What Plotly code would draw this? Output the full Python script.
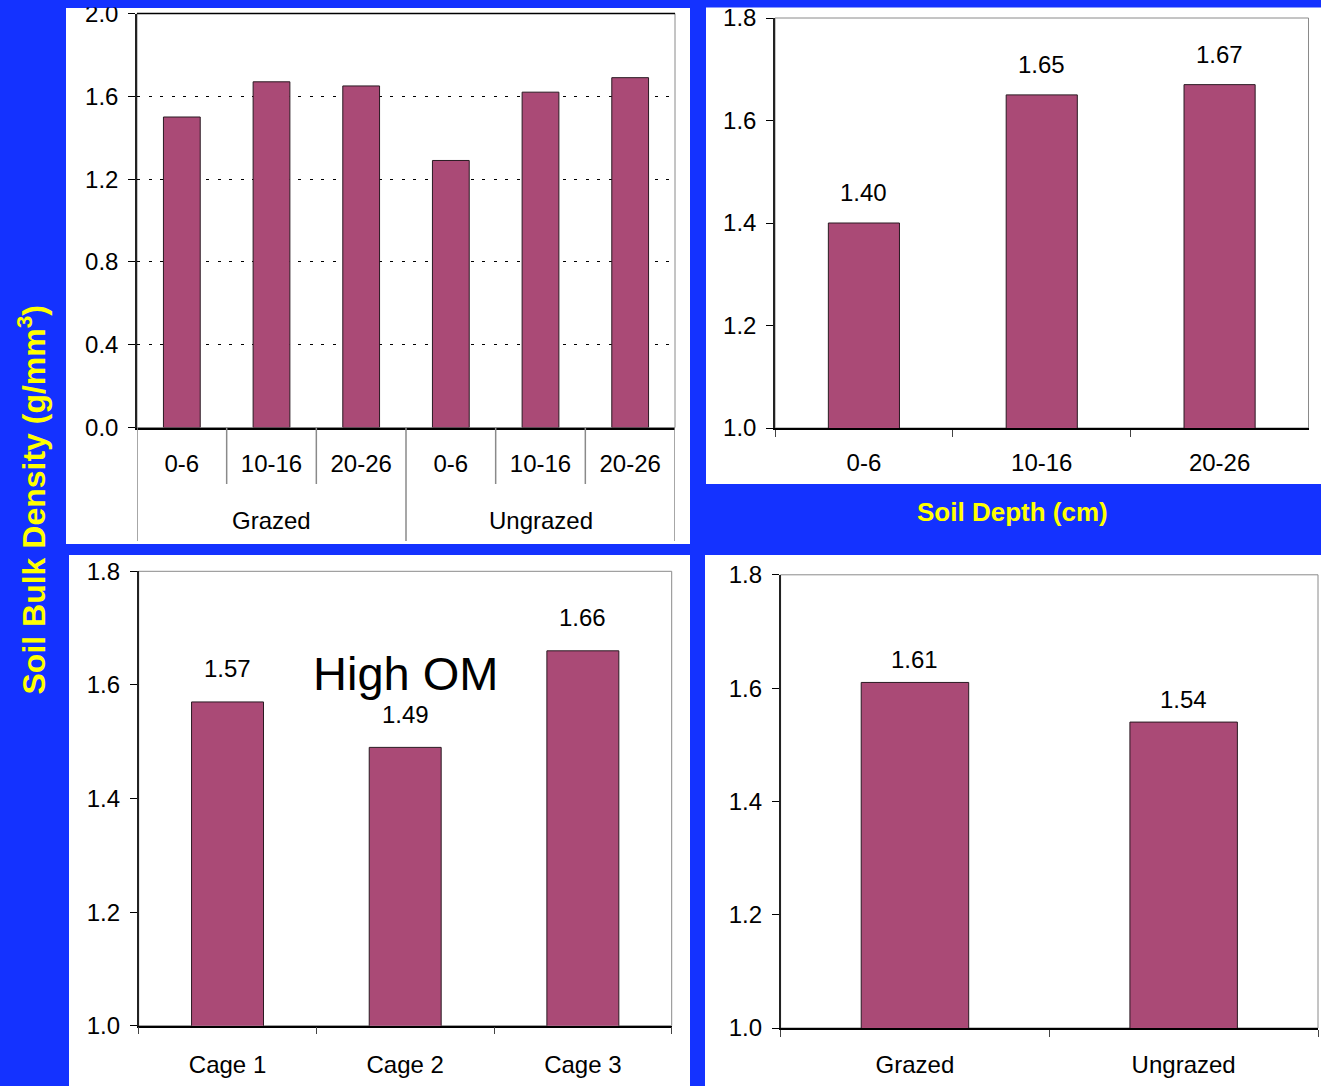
import plotly.graph_objects as go

W, H = 1321, 1086

# Soil bulk density by sampling depth within each grazing treatment
depths = ["0-6", "10-16", "20-26"]
treatments = ["Grazed", "Ungrazed"]
density_grazed = [1.50, 1.67, 1.65]
density_ungrazed = [1.29, 1.62, 1.69]

# Mean bulk density by depth
density_by_depth = [1.40, 1.65, 1.67]

# High organic-matter cages
cages = ["Cage 1", "Cage 2", "Cage 3"]
density_cages = [1.57, 1.49, 1.66]

# Mean bulk density by treatment
density_by_treatment = [1.61, 1.54]

# y-axis tick values
ticks_full = [0.0, 0.4, 0.8, 1.2, 1.6, 2.0]
ticks_zoom = [1.0, 1.2, 1.4, 1.6, 1.8]

BLUE = "#1432ff"
BAR = "#aa4a76"
BAR_EDGE = "#2a1a22"
YELLOW = "#ffff00"
GREY = "#8a8a8a"
FONT = "Liberation Sans, Arial, sans-serif"


def fx(px):
    return px / W


def fy(py):
    return 1 - py / H


# white card (left, top, right, bottom) and plot area (left, top, right, bottom), in pixels
panels = {
    "1": dict(card=(66, 8, 690, 544), plot=(137, 13.5, 675, 427.5)),
    "2": dict(card=(706, 7, 1321, 484), plot=(775, 18, 1308.5, 428)),
    "3": dict(card=(69, 555, 690, 1086), plot=(138.7, 571.3, 671.7, 1025.7)),
    "4": dict(card=(705, 555, 1321, 1086), plot=(780.6, 574.8, 1318, 1028)),
}

fig = go.Figure()

bar_style = dict(marker=dict(color=BAR, line=dict(color=BAR_EDGE, width=1)),
                 showlegend=False, hoverinfo="x+y")

# Panel 1: depth within treatment
x_positions = list(range(len(treatments) * len(depths)))
fig.add_trace(go.Bar(x=x_positions, y=density_grazed + density_ungrazed,
                     xaxis="x", yaxis="y", width=0.41, **bar_style))
# Panel 2: by depth
fig.add_trace(go.Bar(x=depths, y=density_by_depth, xaxis="x2", yaxis="y2",
                     width=0.40, **bar_style))
# Panel 3: cages
fig.add_trace(go.Bar(x=cages, y=density_cages, xaxis="x3", yaxis="y3",
                     width=0.405, **bar_style))
# Panel 4: by treatment
fig.add_trace(go.Bar(x=treatments, y=density_by_treatment, xaxis="x4", yaxis="y4",
                     width=0.40, **bar_style))

tickfont = dict(family=FONT, size=24, color="black")

layout = dict(
    width=W, height=H,
    margin=dict(l=0, r=0, t=0, b=0, pad=0, autoexpand=False),
    paper_bgcolor=BLUE,
    plot_bgcolor="white",
    showlegend=False,
    bargap=0.6,
)

shapes = []
annotations = []

for key, p in panels.items():
    cl, ct, cr, cb = p["card"]
    shapes.append(dict(type="rect", xref="paper", yref="paper",
                       x0=fx(cl), x1=fx(cr), y0=fy(cb), y1=fy(ct),
                       fillcolor="white", line=dict(width=0), layer="below"))
    pl, pt, pr, pb = p["plot"]
    xa = "xaxis" if key == "1" else f"xaxis{key}"
    ya = "yaxis" if key == "1" else f"yaxis{key}"
    yid = "y" if key == "1" else f"y{key}"
    xid = "x" if key == "1" else f"x{key}"
    layout[ya] = dict(
        domain=[fy(pb), fy(pt)], anchor=xid,
        showline=True, linecolor="#222", linewidth=1.5,
        ticks="outside", ticklen=7, tickcolor="black", tickwidth=1,
        tickfont=tickfont, ticklabelstandoff=5, ticklabeloverflow="allow",
        zeroline=False, showgrid=False, tickformat=".1f",
        automargin=False, fixedrange=True,
    )
    layout[xa] = dict(
        domain=[fx(pl), fx(pr)], anchor=yid,
        showline=True, linecolor="black", linewidth=1.5,
        tickfont=tickfont, zeroline=False, showgrid=False,
        ticklabeloverflow="allow",
        automargin=False, fixedrange=True,
    )
    # grey frame around the plot area
    shapes.append(dict(type="rect", xref=f"{xid} domain", yref=f"{yid} domain",
                       x0=0, x1=1, y0=0, y1=1, line=dict(color=GREY, width=1),
                       layer="below"))

# Panel 1 axes
layout["yaxis"].update(range=[0, 2.0], tickvals=ticks_full, showgrid=True,
                       gridcolor="black", gridwidth=1, griddash="3px,8.5px")
layout["xaxis"].update(type="linear", range=[-0.5, len(x_positions) - 0.5],
                       tickvals=x_positions, ticktext=depths * len(treatments),
                       ticks="", ticklabelstandoff=14)
# solid top edge at the 2.0 line
shapes.append(dict(type="line", xref="x domain", yref="y domain",
                   x0=0, x1=1, y0=1, y1=1, line=dict(color="black", width=1.5),
                   layer="above"))

# Panels 2-4 axes
label_standoff = {"2": 12, "3": 17, "4": 14}
for k in ["2", "3", "4"]:
    layout[f"yaxis{k}"].update(range=[1.0, 1.8], tickvals=ticks_zoom)
    layout[f"xaxis{k}"].update(type="category", ticks="outside", tickson="boundaries",
                               ticklen=7, tickcolor="#444",
                               ticklabelstandoff=label_standoff[k])

# Category dividers beneath panel 1
axis_py = panels["1"]["plot"][3]
n_d = len(depths)
for i in range(len(x_positions) + 1):
    edge = (i % n_d == 0)
    shapes.append(dict(type="line", xref="x", yref="paper",
                       x0=i - 0.5, x1=i - 0.5,
                       y0=fy(axis_py), y1=fy(541 if edge else 484),
                       line=dict(color=GREY, width=1.5), layer="above"))
for g, name in enumerate(treatments):
    annotations.append(dict(xref="x", yref="paper", x=g * n_d + (n_d - 1) / 2,
                            y=fy(520), text=name, showarrow=False,
                            yanchor="middle", font=tickfont))

# Value labels
def value_labels(xs, ys, xid, yid, shift):
    for xv, yv in zip(xs, ys):
        annotations.append(dict(xref=xid, yref=yid, x=xv, y=yv, text=f"{yv:.2f}",
                                showarrow=False, yanchor="middle", yshift=shift,
                                font=tickfont))

value_labels(depths, density_by_depth, "x2", "y2", 30)
value_labels(cages, density_cages, "x3", "y3", 33)
value_labels(treatments, density_by_treatment, "x4", "y4", 23)

annotations.append(dict(xref="x3 domain", yref="y3 domain", x=0.5, y=0.774,
                        text="High OM", showarrow=False, xanchor="center",
                        yanchor="middle",
                        font=dict(family=FONT, size=47, color="black")))

# Shared titles
annotations.append(dict(xref="paper", yref="paper", x=fx(32), y=fy(500.5),
                        text="<b>Soil Bulk Density (g/mm<sup>3</sup>)</b>",
                        textangle=-90, showarrow=False, xanchor="center",
                        yanchor="middle",
                        font=dict(family=FONT, size=32, color=YELLOW)))
annotations.append(dict(xref="paper", yref="paper", x=fx(1012), y=fy(512.5),
                        text="<b>Soil Depth (cm)</b>", showarrow=False,
                        xanchor="center", yanchor="middle",
                        font=dict(family=FONT, size=26, color=YELLOW)))

# blue strip along the top edge
shapes.append(dict(type="rect", xref="paper", yref="paper", x0=0, x1=1,
                   y0=fy(7.5), y1=1, fillcolor=BLUE, line=dict(width=0),
                   layer="above"))

layout["shapes"] = shapes
layout["annotations"] = annotations
fig.update_layout(**layout)

fig.write_html("out.html", config={"displayModeBar": False})
